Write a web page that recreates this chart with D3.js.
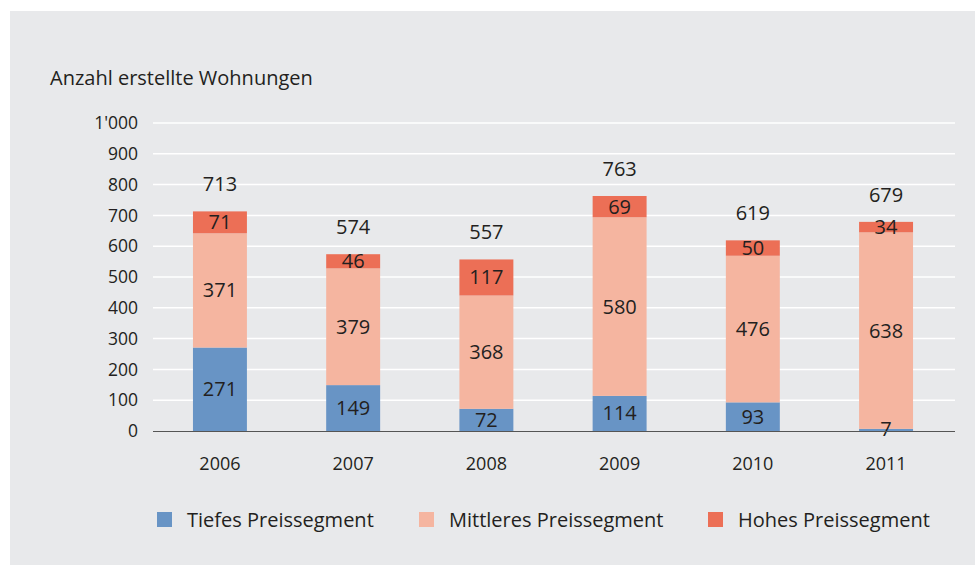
<!DOCTYPE html>
<html>
<head>
<meta charset="utf-8">
<script src="https://cdn.jsdelivr.net/npm/d3@7"></script>
<style>
body{margin:0;background:#fff;}
text{font-family:"Open Sans",sans-serif;fill:#231f20;}
</style>
</head>
<body>
<svg id="chart"></svg>
<script>
var years=["2006","2007","2008","2009","2010","2011"];
var tiefes=[271,149,72,114,93,7];
var mittleres=[371,379,368,580,476,638];
var hohes=[71,46,117,69,50,34];
var totals=[713,574,557,763,619,679];
var seriesNames=["Tiefes Preissegment","Mittleres Preissegment","Hohes Preissegment"];
var colors=["#6894c5","#f5b5a0","#ec6f56"];
var yTicks=[0,100,200,300,400,500,600,700,800,900,1000];

var width=975;
var height=565;

var svg=d3.select("#chart")
.attr("width",width)
.attr("height",height);

svg.append("rect")
.attr("x",10)
.attr("y",11)
.attr("width",width-10)
.attr("height",height-11)
.attr("fill","#e8e9eb");

var x=d3.scaleBand()
.domain(years)
.range([153,953])
.paddingInner(0.595)
.paddingOuter(0.3);

var y=d3.scaleLinear()
.domain([0,1000])
.range([431,123]);

// gridlines
svg.selectAll("line.grid")
.data(yTicks.slice(1))
.enter()
.append("line")
.attr("class","grid")
.attr("x1",153)
.attr("x2",955)
.attr("y1",function(d){return y(d);})
.attr("y2",function(d){return y(d);})
.attr("stroke","#ffffff")
.attr("stroke-width",1.5);

// y tick labels
var fmt=function(d){return d>=1000?"1'000":String(d);};
svg.selectAll("text.ytick")
.data(yTicks)
.enter()
.append("text")
.attr("class","ytick")
.attr("x",138)
.attr("y",function(d){return y(d);})
.attr("dy","0.35em")
.attr("text-anchor","end")
.attr("font-size",17.5)
.text(fmt);

svg.append("text")
.attr("x",50)
.attr("y",85)
.attr("font-size",20)
.text("Anzahl erstellte Wohnungen");

// stack
var table=years.map(function(yr,i){
  return {year:yr,t:tiefes[i],m:mittleres[i],h:hohes[i]};
});
var stack=d3.stack().keys(["t","m","h"]);
var layers=stack(table);

var g=svg.selectAll("g.layer")
.data(layers)
.enter()
.append("g")
.attr("class","layer")
.attr("fill",function(d,i){return colors[i];});

g.selectAll("rect")
.data(function(d){return d;})
.enter()
.append("rect")
.attr("x",function(d){return x(d.data.year);})
.attr("width",x.bandwidth())
.attr("y",function(d){return y(d[1]);})
.attr("height",function(d){return y(d[0])-y(d[1]);});

// segment labels, drawn after all rects
var segs=[];
layers.forEach(function(l){l.forEach(function(d){segs.push(d);});});
svg.selectAll("text.seg")
.data(segs)
.enter()
.append("text")
.attr("class","seg")
.attr("x",function(d){return x(d.data.year)+x.bandwidth()/2;})
.attr("y",function(d){
  var mid=(y(d[0])+y(d[1]))/2;
  if(y(d[0])-y(d[1])<10){mid=y(d[0])-2;}
  return mid;})
.attr("dy","0.35em")
.attr("text-anchor","middle")
.attr("font-size",20)
.text(function(d){return d[1]-d[0];});

// totals
svg.selectAll("text.total")
.data(totals)
.enter()
.append("text")
.attr("class","total")
.attr("x",function(d,i){return x(years[i])+x.bandwidth()/2;})
.attr("y",function(d){return y(d)-20;})
.attr("text-anchor","middle")
.attr("font-size",20)
.text(function(d){return d;});

// x axis line
svg.append("line")
.attr("x1",153)
.attr("x2",955)
.attr("y1",431.5)
.attr("y2",431.5)
.attr("stroke","#555")
.attr("stroke-width",1);

svg.selectAll("text.year")
.data(years)
.enter()
.append("text")
.attr("class","year")
.attr("x",function(d){return x(d)+x.bandwidth()/2;})
.attr("y",470)
.attr("text-anchor","middle")
.attr("font-size",18)
.text(function(d){return d;});

// legend
var legX=[157,419,708];
var leg=svg.selectAll("g.legend")
.data(seriesNames)
.enter()
.append("g")
.attr("class","legend")
.attr("transform",function(d,i){return "translate("+legX[i]+",512)";});

leg.append("rect")
.attr("width",15)
.attr("height",15)
.attr("fill",function(d,i){return colors[i];});

leg.append("text")
.attr("x",30)
.attr("y",7.5)
.attr("dy","0.35em")
.attr("font-size",20)
.text(function(d){return d;});
</script>
</body>
</html>
